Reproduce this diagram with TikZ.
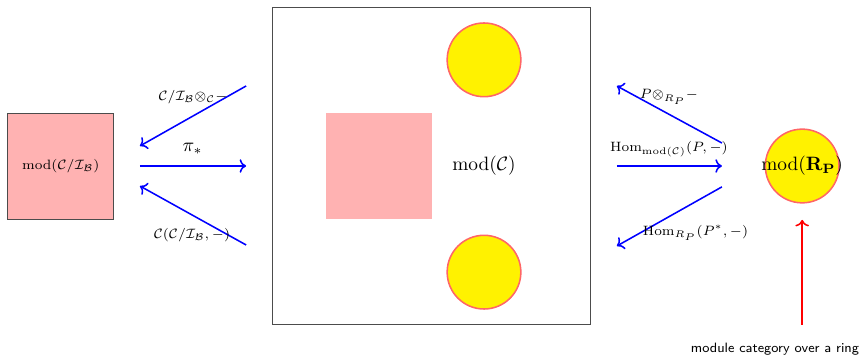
\documentclass[tikz,border=0pt]{standalone}
\usepackage{amsmath,amssymb}
\usepackage{xcolor}
\usepackage{tikz}
\usetikzlibrary{arrows.meta,positioning}

\begin{document}
\begin{tikzpicture}[
  catbox/.style={draw=black!70, fill=red!30, minimum size=19.3mm, inner sep=0pt, font=\fontsize{7.4}{9}\selectfont},
  subcat/.style={fill=red!30, minimum size=19.3mm, inner sep=0pt},
  ringdisc/.style={circle, draw=red!60, thick, fill=yellow, minimum size=13.4mm, inner sep=0pt},
  functor/.style={->, blue, thick},
  lbl/.style={font=\scriptsize, inner sep=1pt}
]
\useasboundingbox (-7.845,-3.49) rectangle (7.773,3.018);
% the big category and what sits in it
\node[draw=black!70, minimum size=57.7mm, inner sep=0pt] (modC) at (0,0) {};
\node[subcat] (quot) at (-0.955,0) {};
\node (modCtext) at (0.955,0) {$\operatorname{mod}(\mathcal{C})$};
\node[ringdisc] (topdisc) at (0.955,1.93) {};
\node[ringdisc] (botdisc) at (0.955,-1.93) {};
% left: the quotient
\node[catbox] (modQ) at (-6.74,0) {$\operatorname{mod}(\mathcal{C}/\mathcal{I}_{\mathcal{B}})$};
% right: the ring
\node[ringdisc] (ring) at (6.74,0) {};
\node (ringtext) at (6.74,0) {$\operatorname{mod}(\mathbf{R_P})$};
\node[font=\sffamily\scriptsize] (note) at (6.245,-3.33) {module category over a ring};

\coordinate (la) at (-3.37,1.455);  \coordinate (lb) at (-5.30,0.364);
\coordinate (lc) at (-5.30,0);      \coordinate (ld) at (-3.37,0);
\coordinate (le) at (-3.37,-1.436); \coordinate (lf) at (-5.30,-0.364);
\coordinate (ra) at (5.28,0.418);   \coordinate (rb) at (3.37,1.455);
\coordinate (rc) at (3.37,0);       \coordinate (rd) at (5.28,0);
\coordinate (re) at (5.28,-0.38);   \coordinate (rf) at (3.37,-1.455);
\coordinate (noteup) at (6.74,-2.89);
\coordinate (ringdown) at (6.74,-0.98);

\foreach \a/\b in {la/lb,lc/ld,le/lf,ra/rb,rc/rd,re/rf} \draw[functor] (\a) -- (\b);
\draw[->, red, thick] (noteup) -- (ringdown);

\node[lbl] (tensQ) at (-4.335,1.255) {$\mathcal{C}/\mathcal{I}_{\mathcal{B}}{\otimes}_{\mathcal{C}}-$};
\node[lbl, font=\normalsize] (push) at (-4.345,0.31) {$\pi_*$};
\node[lbl] (homQ) at (-4.355,-1.255) {$\mathcal{C}(\mathcal{C}/\mathcal{I}_{\mathcal{B}},-)$};
\node[lbl] (tensP) at (4.318,1.255) {$P{\otimes}_{R_P}-$};
\node[lbl] (homP) at (4.318,0.31) {$\operatorname{Hom}_{\operatorname{mod}(\mathcal{C})}(P,-)$};
\node[lbl] (homR) at (4.8,-1.22) {$\operatorname{Hom}_{R_P}(P^*,-)$};
\end{tikzpicture}
\end{document}
